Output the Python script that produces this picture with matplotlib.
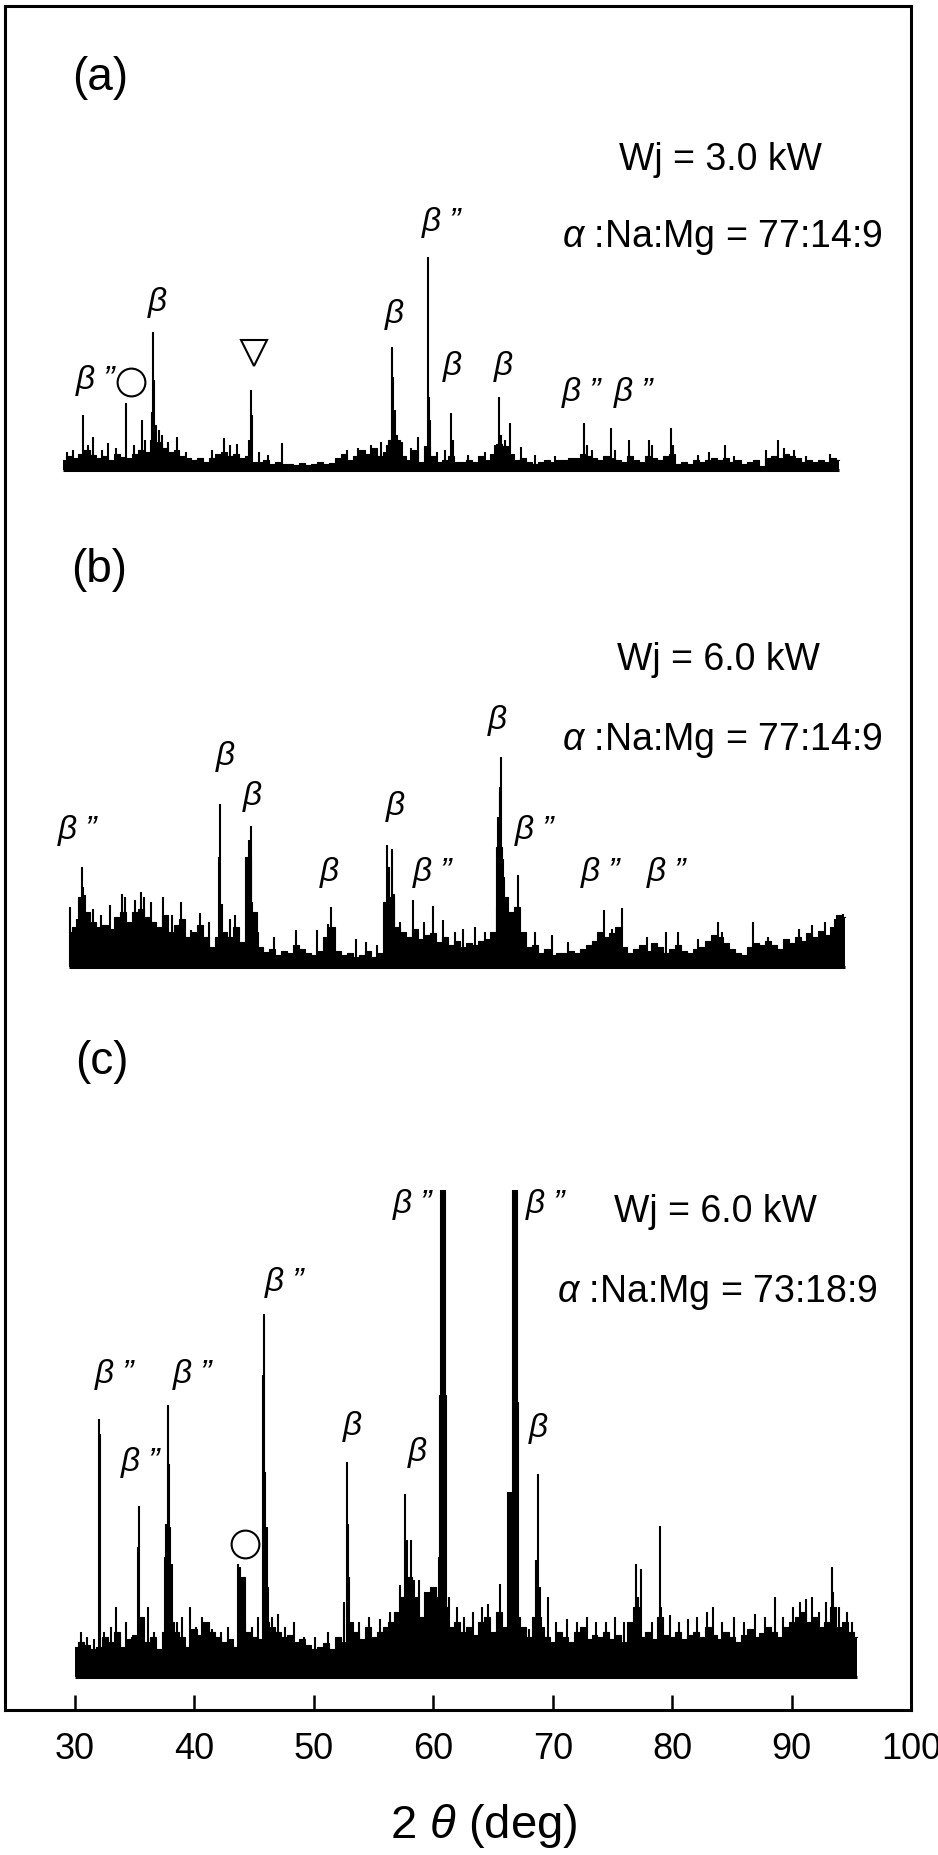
import numpy as np
import matplotlib
matplotlib.use("Agg")
import matplotlib.pyplot as plt

plt.rcParams['font.family'] = ['Liberation Sans', 'DejaVu Sans']
plt.rcParams['mathtext.fontset'] = 'custom'
plt.rcParams['mathtext.rm'] = 'Liberation Sans'
plt.rcParams['mathtext.it'] = 'Liberation Sans:italic'

# ---------------- data ----------------
STEP = 0.5  # deg, spacing of the background readings

# (a) Wj = 3.0 kW, 77:14:9
a_start = 29.0
a_background = [10, 14, 12, 16, 20, 15, 12, 14, 10, 16, 13, 12, 16, 20, 18, 30, 28, 22, 18, 20,
                14, 12, 10, 12, 8, 12, 16, 18, 14, 16, 12, 14, 8, 8, 10, 6, 8, 6, 6, 5,
                7, 5, 6, 8, 6, 7, 12, 16, 10, 14, 20, 16, 22, 14, 18, 30, 30, 14, 10, 20,
                8, 24, 14, 8, 10, 14, 8, 8, 10, 8, 14, 10, 16, 26, 24, 16, 10, 12, 8, 6,
                8, 10, 8, 10, 10, 12, 12, 16, 14, 12, 10, 14, 12, 10, 8, 14, 10, 8, 14, 12,
                10, 14, 16, 6, 8, 6, 10, 8, 10, 12, 10, 12, 8, 10, 6, 8, 10, 4, 12, 14,
                12, 16, 14, 12, 8, 10, 8, 10, 8, 12, 10]
a_peak_pos = [29.3, 29.8, 30.70, 31.1, 31.53, 32.3, 32.79, 33.4, 34.26, 34.9, 35.63, 35.9,
              36.45, 36.55, 36.62, 36.75, 37.0, 37.3, 37.8, 38.5, 39.3, 41.5, 42.5, 43.0,
              43.6, 44.6, 44.72, 44.8, 45.4, 46.2, 47.3, 52.8, 53.7, 54.8, 55.6, 56.1,
              56.53, 56.65, 56.8, 56.95, 57.4, 58.1, 58.7, 59.54, 59.6, 59.7, 60.3, 61.0,
              61.5, 61.65, 62.9, 64.3, 65.2, 65.54, 65.7, 66.0, 66.46, 67.37, 68.5, 70.2,
              72.64, 72.9, 73.3, 74.87, 75.2, 76.4, 78.1, 78.3, 79.9, 80.1, 82.2, 83.1,
              84.4, 85.2, 87.9, 88.9, 89.4, 90.2, 91.2, 93.2]
a_peak_int = [18, 20, 55, 25, 33, 20, 27, 22, 67, 25, 50, 30,
              58, 138, 90, 45, 40, 35, 28, 33, 18, 20, 32, 25,
              26, 30, 80, 55, 18, 15, 27, 20, 22, 25, 28, 25,
              123, 93, 60, 35, 28, 22, 33, 213, 73, 50, 18, 20,
              57, 30, 15, 18, 25, 73, 35, 30, 47, 23, 15, 14,
              47, 25, 20, 42, 20, 30, 30, 25, 42, 25, 15, 18,
              25, 14, 20, 30, 22, 20, 14, 16]

# (b) Wj = 6.0 kW, 77:14:9
b_start = 29.5
b_background = [35, 40, 70, 55, 45, 40, 42, 38, 50, 55, 45, 55, 58, 50, 45, 40, 52, 35, 42, 48,
                30, 35, 42, 30, 20, 30, 35, 30, 40, 25, 110, 55, 20, 15, 18, 12, 16, 14, 22, 18,
                14, 12, 16, 30, 40, 16, 12, 14, 10, 12, 16, 10, 14, 65, 70, 40, 35, 30, 38, 28,
                32, 34, 25, 30, 22, 26, 20, 24, 22, 26, 28, 35, 120, 70, 55, 60, 35, 20, 22, 14,
                18, 12, 14, 14, 16, 14, 18, 22, 26, 35, 30, 34, 40, 20, 14, 18, 22, 16, 24, 20,
                14, 18, 22, 16, 14, 18, 20, 26, 32, 30, 24, 18, 14, 12, 20, 24, 22, 26, 22, 18,
                28, 24, 30, 26, 34, 30, 36, 32, 40, 52, 50]
b_peak_pos = [29.6, 30.15, 30.61, 30.7, 30.8, 31.5, 32.2, 32.9, 33.9, 34.2, 35.0, 35.5,
              35.8, 36.4, 37.4, 38.1, 38.9, 39.7, 40.5, 41.2, 42.05, 42.18, 42.3, 43.0,
              43.4, 44.6, 44.7, 44.85, 45.3, 46.7, 48.5, 50.3, 51.2, 51.4, 53.5, 54.4,
              55.3, 56.14, 56.3, 56.53, 56.7, 57.2, 58.3, 59.2, 59.97, 60.8, 61.8, 62.5,
              63.5, 64.3, 65.3, 65.45, 65.55, 65.62, 65.68, 65.8, 65.9, 66.1, 67.07, 67.2,
              68.5, 69.9, 71.3, 74.3, 75.0, 75.76, 77.9, 79.5, 80.5, 82.2, 83.8, 84.2,
              86.8, 88.0, 90.6, 91.7, 92.8, 93.6, 94.3]
b_peak_int = [60, 48, 100, 80, 72, 58, 52, 62, 73, 70, 67, 75,
              70, 65, 70, 52, 65, 37, 54, 45, 110, 163, 63, 48,
              52, 127, 141, 65, 35, 30, 37, 37, 43, 60, 28, 25,
              22, 122, 100, 118, 73, 45, 67, 45, 61, 47, 35, 38,
              40, 35, 60, 150, 175, 180, 210, 108, 90, 65, 92, 55,
              35, 32, 25, 57, 38, 59, 30, 35, 35, 28, 45, 35,
              45, 30, 38, 42, 45, 48, 53]

# (c) Wj = 6.0 kW, 73:18:9
c_start = 30.0
c_background = [30, 35, 32, 28, 30, 40, 35, 45, 30, 38, 42, 60, 35, 40, 28, 45, 55, 45, 40, 30,
                48, 42, 55, 45, 40, 35, 38, 30, 100, 45, 40, 38, 55, 50, 45, 40, 42, 35, 38, 32,
                28, 30, 34, 28, 40, 35, 55, 45, 38, 50, 40, 45, 50, 55, 65, 80, 100, 80, 60, 85,
                90, 80, 70, 50, 55, 45, 50, 42, 55, 60, 45, 65, 50, 60, 60, 50, 40, 60, 50, 40,
                35, 45, 40, 35, 45, 50, 38, 42, 40, 45, 38, 42, 35, 55, 70, 40, 45, 38, 60, 42,
                40, 45, 38, 42, 45, 40, 50, 42, 38, 45, 40, 35, 42, 48, 40, 44, 50, 45, 40, 50,
                55, 60, 65, 55, 60, 50, 55, 70, 50, 55, 45, 40]
c_peak_pos = [30.5, 31.0, 31.6, 32.0, 32.1, 32.4, 33.0, 33.4, 33.8, 34.3, 34.8, 35.3,
              35.38, 35.5, 36.1, 36.6, 37.55, 37.65, 37.75, 37.85, 37.95, 38.1, 38.5, 39.0,
              39.6, 40.1, 40.6, 41.0, 41.5, 42.2, 42.8, 43.65, 43.85, 44.2, 44.8, 45.3,
              45.75, 45.83, 45.95, 46.05, 46.2, 46.5, 47.0, 47.6, 48.3, 49.2, 50.1, 51.2,
              52.5, 52.77, 52.85, 52.95, 53.2, 53.8, 54.6, 55.5, 56.4, 57.2, 57.65, 57.8,
              58.1, 58.4, 58.8, 59.3, 60.0, 60.5, 60.6, 60.66, 60.75, 60.85, 60.95, 61.05,
              61.3, 62.0, 62.6, 63.3, 64.1, 64.6, 65.6, 66.25, 66.35, 66.45, 66.55, 66.7,
              66.8, 66.9, 67.0, 67.1, 67.3, 68.0, 68.6, 68.8, 68.9, 69.0, 69.6, 70.3,
              71.2, 72.0, 72.9, 73.6, 74.5, 75.2, 76.0, 76.96, 77.1, 77.4, 78.3, 78.97,
              79.1, 79.8, 80.6, 81.3, 82.1, 82.9, 83.4, 84.2, 85.2, 86.0, 86.9, 87.8,
              88.6, 89.3, 90.1, 90.7, 91.2, 91.7, 92.3, 92.9, 93.35, 93.5, 94.0, 94.6, 95.1]
c_peak_int = [45, 40, 38, 258, 243, 45, 50, 70, 40, 55, 40, 130,
              171, 60, 70, 45, 120, 153, 272, 213, 150, 113, 55, 60,
              70, 50, 60, 55, 48, 45, 50, 113, 110, 55, 50, 60,
              302, 363, 205, 150, 90, 60, 63, 50, 55, 40, 40, 45,
              75, 215, 153, 100, 50, 55, 60, 58, 65, 92, 183, 137,
              137, 97, 97, 60, 75, 120, 282, 487, 487, 487, 487, 282,
              80, 70, 60, 65, 70, 73, 93, 185, 185, 185, 185, 487,
              487, 487, 487, 275, 50, 48, 117, 203, 90, 60, 80, 55,
              58, 55, 60, 55, 55, 60, 55, 113, 80, 108, 55, 151,
              70, 62, 55, 58, 60, 65, 70, 55, 60, 55, 63, 60,
              80, 60, 70, 75, 78, 80, 65, 75, 110, 85, 70, 65, 55]

x_ticks = [30, 40, 50, 60, 70, 80, 90, 100]

# ---------------- layout ----------------
W, H = 938, 1855
fig = plt.figure(figsize=(W / 100, H / 100), dpi=100)
box_l, box_r, box_t, box_b = 5, 911, 6, 1710
ax = fig.add_axes([box_l / W, (H - box_b) / H, (box_r - box_l) / W, (box_b - box_t) / H])

PX_PER_DEG = 11.943
X30_PX = 75.0


def px_x(px):
    return 30 + (px - X30_PX) / PX_PER_DEG


def px_y(py):
    return box_b - py


ax.set_xlim(px_x(box_l), px_x(box_r))
ax.set_ylim(0, box_b - box_t)

bases = {'a': px_y(470), 'b': px_y(967), 'c': px_y(1677)}


def draw_scan(start, bg, pos, inten, base):
    bg = np.asarray(bg, float)
    x = start + STEP * np.arange(len(bg))
    ax.fill_between(x, base, base + bg, step='mid', color='black', lw=0)
    ax.step(x, base + bg, where='mid', color='black', lw=0.8)
    ax.vlines(pos, base, base + np.asarray(inten, float), color='black', lw=1.5)
    ax.hlines(base, x[0], x[-1], color='black', lw=2.2)


draw_scan(a_start, a_background, a_peak_pos, a_peak_int, bases['a'])
draw_scan(b_start, b_background, b_peak_pos, b_peak_int, bases['b'])
draw_scan(c_start, c_background, c_peak_pos, c_peak_int, bases['c'])

BPP = "β ”"
lab_fs = 24
# (x deg, height above baseline)
labels = {
    'a': [(BPP, 60.73, 248), ("β", 36.87, 167), ("β", 56.71, 155), ("β", 61.57, 103),
          ("β", 65.84, 103), (BPP, 72.45, 78), (BPP, 76.81, 78), (BPP, 31.76, 89)],
    'b': [("β", 65.33, 247), ("β", 42.56, 210), ("β", 44.82, 170), (BPP, 30.25, 137),
          ("β", 56.79, 160), (BPP, 68.52, 136), ("β", 51.27, 95), (BPP, 59.98, 95),
          (BPP, 74.04, 95), (BPP, 79.57, 95)],
    'c': [(BPP, 58.30, 472), (BPP, 69.44, 472), (BPP, 47.58, 395), (BPP, 33.31, 303),
          (BPP, 39.84, 303), (BPP, 35.48, 215), ("β", 53.19, 250), ("β", 58.64, 225),
          ("β", 68.77, 249)],
}
for key, items in labels.items():
    for s, xd, hy in items:
        ax.text(xd, bases[key] + hy, s, fontsize=lab_fs, fontstyle='italic',
                ha='center', va='center')

# phase markers
ax.plot([34.69], [bases['a'] + 88], marker='o', ms=20, mfc='none', mec='black', mew=1.5)
ax.plot([44.95], [bases['a'] + 117], marker='v', ms=19, mfc='none', mec='black', mew=1.5)
ax.plot([44.23], [bases['c'] + 133.5], marker='o', ms=20, mfc='none', mec='black', mew=1.5)

# panel tags and conditions
for tag, (cx, cy) in {'(a)': (100, 78), '(b)': (99, 570), '(c)': (102, 1062)}.items():
    ax.text(px_x(cx), px_y(cy), tag, fontsize=33, ha='center', va='center')

cond = [("Wj = 3.0 kW", 720, 170), (r"$\alpha$ :Na:Mg = 77:14:9", 722, 247),
        ("Wj = 6.0 kW", 718, 670), (r"$\alpha$ :Na:Mg = 77:14:9", 722, 750),
        ("Wj = 6.0 kW", 715, 1222), (r"$\alpha$ :Na:Mg = 73:18:9", 717, 1302)]
for s, cx, by in cond:
    ax.text(px_x(cx), px_y(by), s, fontsize=27, ha='center', va='baseline')

# axes styling
for sp in ax.spines.values():
    sp.set_linewidth(2.2)
ax.set_yticks([])
ax.set_xticks(x_ticks)
ax.set_xticklabels([str(t) for t in x_ticks])
ax.tick_params(axis='x', direction='in', length=10.8, width=1.8, pad=16, labelsize=26)

fig.text(484 / W, 1 - 1826 / H, r"2 $\theta$ (deg)", fontsize=34, ha='center', va='center')

fig.savefig("out.png", dpi=100)
